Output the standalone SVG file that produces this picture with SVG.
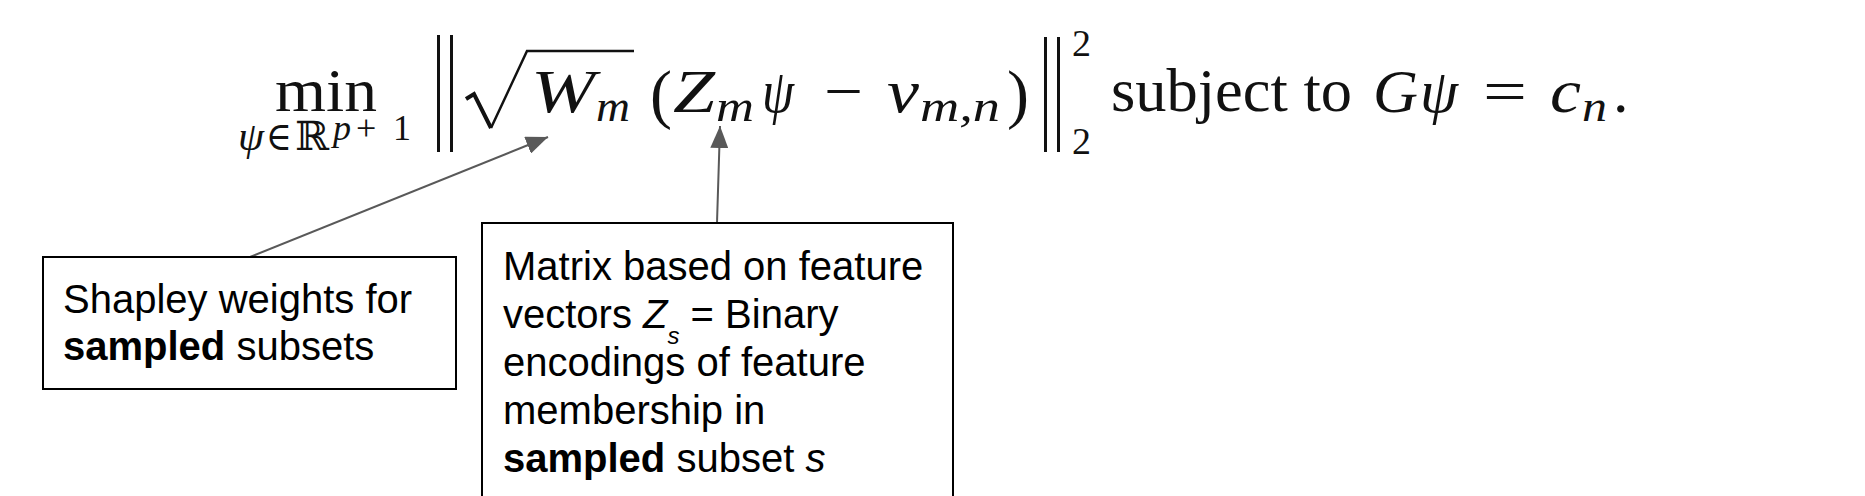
<svg xmlns="http://www.w3.org/2000/svg" width="1865" height="496" viewBox="0 0 1865 496">
<defs>
<style>
.eq{font-family:"Liberation Serif","Times New Roman",serif;fill:#111;font-size:62px}
.it{font-style:italic}
.sub{font-size:44px}
.sm{font-size:40px}
.sup{font-size:36px}
.par{font-size:66px}
.two{font-size:38px}
.dv{font-family:"DejaVu Serif",serif}
.lbl{font-family:"Liberation Sans",Arial,sans-serif;font-size:40px;fill:#000}
.b{font-weight:bold}
.box{fill:#fff;stroke:#000;stroke-width:2}
.conn{stroke:#595959;stroke-width:2;fill:none}
.bar{stroke:#111;stroke-width:3}
</style>
<marker id="ah" markerUnits="userSpaceOnUse" markerWidth="24" markerHeight="18" viewBox="0 0 24 18" refX="22" refY="9" orient="auto">
<path d="M0,0 L22,9 L0,18 Z" fill="#595959"/>
</marker>
</defs>
<rect width="1865" height="496" fill="#fff"/>

<g id="equation">
<text class="eq" x="275" y="111" textLength="102" lengthAdjust="spacingAndGlyphs">min</text>
<text class="eq sm it" x="238" y="150" textLength="26" lengthAdjust="spacingAndGlyphs">ψ</text>
<text class="eq sm dv" x="266" y="150" textLength="26" lengthAdjust="spacingAndGlyphs">∈</text>
<text class="eq sm dv" x="295" y="150" textLength="34" lengthAdjust="spacingAndGlyphs">ℝ</text>
<text class="eq it sup" x="333" y="140">p</text>
<text class="eq sup" x="356" y="140">+</text>
<text class="eq sup" x="393" y="140">1</text>
<line class="bar" x1="438.5" y1="35" x2="438.5" y2="152"/>
<line class="bar" x1="451.5" y1="35" x2="451.5" y2="152"/>
<path d="M466,99 L474,94 L491,128" fill="none" stroke="#111" stroke-width="4"/>
<path d="M491,128 L527,51 L634,51" fill="none" stroke="#111" stroke-width="2.5"/>
<text class="eq it" x="531" y="112" textLength="64" lengthAdjust="spacingAndGlyphs">W</text>
<text class="eq it sub" x="596" y="121" textLength="34" lengthAdjust="spacingAndGlyphs">m</text>
<text class="eq par" x="650" y="116">(</text>
<text class="eq it" x="673" y="112" textLength="42" lengthAdjust="spacingAndGlyphs">Z</text>
<text class="eq it sub" x="716" y="121" textLength="38" lengthAdjust="spacingAndGlyphs">m</text>
<text class="eq it" x="762" y="112" textLength="32" lengthAdjust="spacingAndGlyphs">ψ</text>
<text class="eq" x="824" y="112" textLength="39" lengthAdjust="spacingAndGlyphs">−</text>
<text class="eq it" x="887" y="112" textLength="32" lengthAdjust="spacingAndGlyphs">v</text>
<text class="eq it sub" x="920" y="121" textLength="80" lengthAdjust="spacingAndGlyphs">m,n</text>
<text class="eq par" x="1007" y="116">)</text>
<line class="bar" x1="1045.5" y1="37" x2="1045.5" y2="152"/>
<line class="bar" x1="1058.5" y1="37" x2="1058.5" y2="152"/>
<text class="eq two" x="1072" y="56">2</text>
<text class="eq two" x="1072" y="154">2</text>
<text class="eq" x="1111" y="111" textLength="241" lengthAdjust="spacingAndGlyphs">subject to</text>
<text class="eq it" x="1373" y="112" textLength="45" lengthAdjust="spacingAndGlyphs">G</text>
<text class="eq it" x="1420" y="112" textLength="38" lengthAdjust="spacingAndGlyphs">ψ</text>
<text class="eq" x="1483" y="112" textLength="44" lengthAdjust="spacingAndGlyphs">=</text>
<text class="eq it" x="1550" y="112" textLength="31" lengthAdjust="spacingAndGlyphs">c</text>
<text class="eq it sub" x="1582" y="121" textLength="25" lengthAdjust="spacingAndGlyphs">n</text>
<text class="eq" x="1613" y="112">.</text>
</g>

<g id="connectors">
<line class="conn" x1="250" y1="257" x2="548" y2="137" marker-end="url(#ah)"/>
<line class="conn" x1="717" y1="223" x2="720" y2="126" marker-end="url(#ah)"/>
</g>

<g id="node-shapley">
<rect class="box" x="43" y="257" width="413" height="132"/>
<text class="lbl" x="63" y="313">Shapley weights for</text>
<text class="lbl" x="63" y="360"><tspan class="b">sampled</tspan> subsets</text>
</g>

<g id="node-matrix">
<rect class="box" x="482" y="223" width="471" height="300"/>
<text class="lbl" x="503" y="280">Matrix based on feature</text>
<text class="lbl" x="503" y="328">vectors <tspan font-style="italic">Z</tspan><tspan font-style="italic" font-size="24" dy="16">s</tspan><tspan dy="-16"> = Binary</tspan></text>
<text class="lbl" x="503" y="376">encodings of feature</text>
<text class="lbl" x="503" y="424">membership in</text>
<text class="lbl" x="503" y="472"><tspan class="b">sampled</tspan> subset <tspan font-style="italic">s</tspan></text>
</g>
</svg>
